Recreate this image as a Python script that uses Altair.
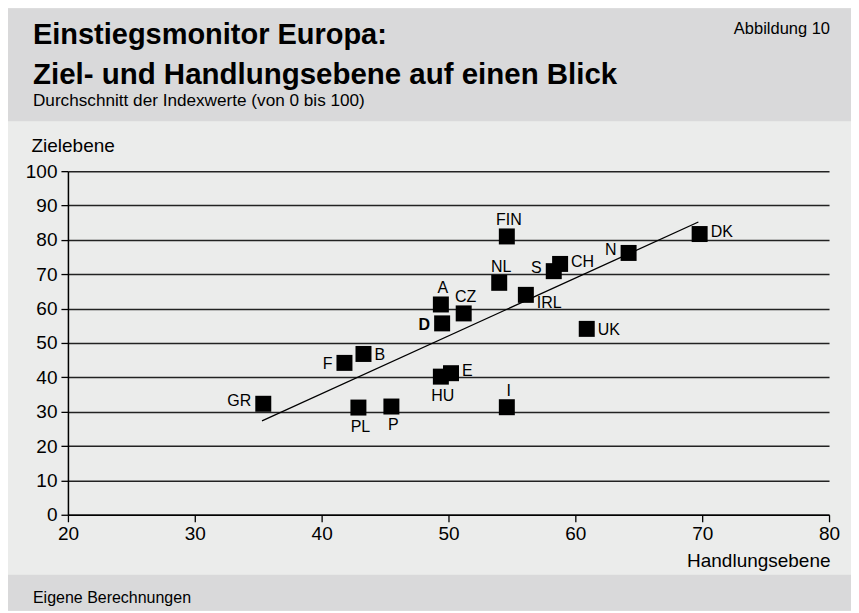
import altair as alt
import pandas as pd

# ---------------- data ----------------
countries = ["GR", "PL", "P", "F", "B", "HU", "E", "I", "A", "D", "CZ",
             "NL", "FIN", "IRL", "S", "CH", "UK", "N", "DK"]
handlungsebene = [35.4, 42.9, 45.5, 41.8, 43.3, 49.4, 50.2, 54.6, 49.4, 49.5, 51.2,
                  54.0, 54.6, 56.1, 58.3, 58.8, 60.9, 64.2, 69.8]
zielebene = [32.3, 31.2, 31.5, 44.2, 46.8, 40.2, 41.2, 31.3, 61.2, 55.7, 58.6,
             67.5, 81.0, 64.0, 70.9, 73.0, 54.1, 76.2, 81.7]
trend_x = [35.3, 69.7]
trend_y = [27.3, 85.2]
x_ticks = [20, 30, 40, 50, 60, 70, 80]
y_ticks = [0, 10, 20, 30, 40, 50, 60, 70, 80, 90, 100]

# label placement (style) per country
placement = {
    "GR": "leftup", "PL": "below", "P": "below", "F": "left", "B": "right",
    "HU": "below", "E": "rightup", "I": "above", "A": "above", "D": "leftbold",
    "CZ": "above", "NL": "above", "FIN": "above", "IRL": "rightdown",
    "S": "leftup", "CH": "rightup", "UK": "right", "N": "leftup", "DK": "rightup",
}
label_styles = {
    "above": dict(align="center", dx=2, dy=-11),
    "below": dict(align="center", dx=2, dy=24),
    "left": dict(align="right", dx=-12, dy=6),
    "leftup": dict(align="right", dx=-12, dy=2),
    "leftbold": dict(align="right", dx=-12, dy=7, fontWeight="bold"),
    "right": dict(align="left", dx=11, dy=6),
    "rightup": dict(align="left", dx=11, dy=3),
    "rightdown": dict(align="left", dx=11, dy=13),
}

FONT = "Liberation Sans"
HEADER = "#d9d9da"
PANEL = "#ebeceb"

df = pd.DataFrame({"land": countries, "h": handlungsebene, "z": zielebene})
df["pos"] = [placement[c] for c in countries]
trend = pd.DataFrame({"h": trend_x, "z": trend_y})

xscale = alt.Scale(domain=[20, 80], nice=False, zero=False)
yscale = alt.Scale(domain=[0, 100], nice=False, zero=False)

x_axis = alt.Axis(values=x_ticks, grid=False, domainColor="black", domainWidth=1.5,
                  tickColor="black", tickSize=7, tickWidth=1.3, labelFont=FONT,
                  labelFontSize=19, labelColor="black", labelPadding=3,
                  labelFlush=False, labelOverlap=False,
                  title="Handlungsebene", titleFont=FONT, titleFontSize=19,
                  titleFontWeight="normal", titleColor="black", titleAnchor="end",
                  titleAlign="right", titleX=763, titleY=52, titleBaseline="alphabetic")
y_axis = alt.Axis(values=y_ticks, grid=True, gridColor="#222222", gridWidth=1.5,
                  domainColor="black", domainWidth=1.5, tickColor="black", tickSize=7,
                  tickWidth=1.3, labelFont=FONT, labelFontSize=19, labelColor="black",
                  labelPadding=4, labelOverlap=False, labelFlush=False,
                  title="Zielebene", titleFont=FONT, titleFontSize=19,
                  titleFontWeight="normal", titleColor="black", titleAngle=0,
                  titleAlign="left", titleBaseline="alphabetic", titleX=-37, titleY=-20)

X = alt.X("h:Q", scale=xscale, axis=x_axis)
Y = alt.Y("z:Q", scale=yscale, axis=y_axis)

one = alt.Data(values=[{}])

header = alt.Chart(one).mark_rect(color=HEADER).encode(
    x=alt.value(-60), x2=alt.value(784), y=alt.value(-163), y2=alt.value(-50))
footer = alt.Chart(one).mark_rect(color=HEADER).encode(
    x=alt.value(-60), x2=alt.value(784), y=alt.value(404), y2=alt.value(440))

def txt(s, x, y, size, weight="normal", align="left"):
    return alt.Chart(one).mark_text(
        text=s, font=FONT, fontSize=size, fontWeight=weight, align=align,
        baseline="alphabetic", color="black").encode(x=alt.value(x), y=alt.value(y))

title1 = txt("Einstiegsmonitor Europa:", -35, -127, 29, "bold")
title2 = txt("Ziel- und Handlungsebene auf einen Blick", -35, -87, 29.5, "bold")
subtitle = txt("Durchschnitt der Indexwerte (von 0 bis 100)", -35, -65, 17.2)
abb = txt("Abbildung 10", 763, -137, 16.5, align="right")
source = txt("Eigene Berechnungen", -35, 432, 16)

base = alt.Chart(df)

line = alt.Chart(trend).mark_line(color="black", strokeWidth=1.3).encode(x=X, y=Y)

points = base.mark_square(size=256, color="black", opacity=1).encode(x=X, y=Y)

label_layers = []
for key, st in label_styles.items():
    label_layers.append(
        base.transform_filter(alt.datum.pos == key).mark_text(
            font=FONT, fontSize=16, color="black", baseline="alphabetic", **st
        ).encode(x=X, y=Y, text="land:N"))

chart = alt.layer(
    header, footer, title1, title2, subtitle, abb, source,
    line, points, *label_layers
).properties(
    width=762, height=344,
    padding={"left": 60, "top": 163, "right": 22, "bottom": 96},
    autosize=alt.AutoSizeParams(type="none"),
    background=PANEL,
).configure_view(stroke=None)

chart.save("out.html", embed_options={"renderer": "svg", "actions": False})
